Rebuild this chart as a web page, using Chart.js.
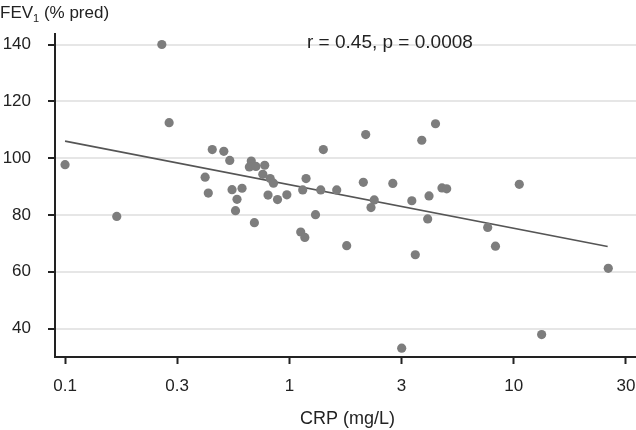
<!doctype html>
<html lang="en">
<head>
    <meta charset="UTF-8">
    <title>FEV1 vs CRP</title>
    <script src="https://cdn.jsdelivr.net/npm/chart.js"></script>
    <style>
        body { margin: 0; background: #fff; }
    </style>
</head>
<body>

<canvas id="myChart" width="636" height="430"></canvas>

<script>
    // CRP (mg/L) and FEV1 (% pred) for each subject
    var crp = [0.100, 0.270, 0.291, 0.170, 0.421, 0.435, 0.453, 0.510, 0.542, 0.555,
               0.615, 0.584, 0.575, 0.676, 0.663, 0.709, 0.776, 0.761, 0.821, 0.849,
               0.803, 0.885, 0.974, 0.698, 1.123, 1.171, 1.146, 1.186, 1.379, 1.625,
               1.307, 1.416, 2.188, 2.135, 2.889, 2.388, 2.310, 1.800, 4.478, 3.890,
               3.512, 4.190, 4.786, 5.023, 4.133, 3.639, 7.650, 8.286, 10.58, 13.31,
               26.37, 3.165];
    var fev = [97.7, 140.0, 112.5, 79.5, 93.3, 87.7, 103.0, 102.4, 99.2, 88.9,
               89.4, 85.5, 81.5, 99.0, 96.9, 97.1, 97.5, 94.3, 92.8, 91.2,
               87.0, 85.4, 87.1, 77.3, 74.0, 72.1, 88.8, 92.8, 88.8, 88.8,
               80.1, 103.0, 108.3, 91.5, 91.1, 85.3, 82.6, 69.2, 112.1, 106.3,
               85.0, 86.7, 89.5, 89.2, 78.6, 66.0, 75.6, 69.0, 90.8, 37.9,
               61.2, 33.1];

    // regression line ends
    var fitCrp = [0.1, 26.2];
    var fitFev = [106.0, 68.9];

    var xTickValues = [0.1, 0.316, 1, 3.16, 10, 31.6];
    var xTickLabels = ['0.1', '0.3', '1', '3', '10', '30'];
    var yTickValues = [40, 60, 80, 100, 120, 140];

    var textColor = '#222';
    var tickFont = { family: "'Liberation Sans', Arial, sans-serif", size: 17 };

    var points = crp.map(function (c, i) { return { x: c, y: fev[i] }; });
    var fitLine = fitCrp.map(function (c, i) { return { x: c, y: fitFev[i] }; });

    // axis titles and r/p note
    var labelsPlugin = {
        id: 'labels',
        afterDraw: function (chart) {
            var c = chart.ctx;
            c.save();
            c.fillStyle = textColor;
            c.textBaseline = 'alphabetic';
            c.textAlign = 'left';
            c.font = "17px 'Liberation Sans', Arial, sans-serif";
            c.fillText('FEV', 0, 18);
            var w = c.measureText('FEV').width;
            c.font = "11px 'Liberation Sans', Arial, sans-serif";
            c.fillText('1', w, 22);
            var w2 = c.measureText('1').width;
            c.font = "17px 'Liberation Sans', Arial, sans-serif";
            c.fillText(' (% pred)', w + w2, 18);

            c.font = "18px 'Liberation Sans', Arial, sans-serif";
            c.fillText('CRP (mg/L)', 300, 424);

            c.font = "19px 'Liberation Sans', Arial, sans-serif";
            c.fillText('r = 0.45, p = 0.0008', 307, 48);
            c.restore();
        }
    };

    var ctx = document.getElementById('myChart');

    var myChart = new Chart(ctx, {
        type: 'scatter',
        data: {
            datasets: [{
                data: points,
                backgroundColor: '#7d7d7d',
                borderWidth: 0,
                pointRadius: 4.6,
                pointHoverRadius: 4.6
            }, {
                data: fitLine,
                showLine: true,
                borderColor: '#555',
                borderWidth: 1.6,
                pointRadius: 0
            }]
        },
        options: {
            responsive: false,
            animation: false,
            devicePixelRatio: 1,
            layout: { autoPadding: false, padding: { top: 34, left: 0, right: 0, bottom: 0 } },
            plugins: {
                legend: { display: false },
                tooltip: { enabled: false }
            },
            scales: {
                x: {
                    type: 'logarithmic',
                    min: 0.0902,
                    max: 35.05,
                    afterBuildTicks: function (scale) {
                        scale.ticks = xTickValues.map(function (v) { return { value: v }; });
                    },
                    afterFit: function (scale) {
                        scale.height = 73;
                        scale.paddingLeft = 0;
                        scale.paddingRight = 0;
                    },
                    ticks: {
                        autoSkip: false,
                        maxRotation: 0,
                        padding: 12,
                        color: textColor,
                        font: tickFont,
                        callback: function (v, i) { return xTickLabels[i]; }
                    },
                    grid: {
                        display: true,
                        drawOnChartArea: false,
                        drawTicks: true,
                        tickLength: 7,
                        tickColor: textColor,
                        tickWidth: 2
                    },
                    border: { color: textColor, width: 2 }
                },
                y: {
                    min: 30,
                    max: 143.7,
                    afterBuildTicks: function (scale) {
                        scale.ticks = yTickValues.map(function (v) { return { value: v }; });
                    },
                    afterFit: function (scale) {
                        scale.width = 55;
                        scale.paddingTop = 0;
                        scale.paddingBottom = 0;
                    },
                    ticks: {
                        padding: 17,
                        color: textColor,
                        font: tickFont
                    },
                    grid: {
                        color: '#e6e6e6',
                        lineWidth: 2,
                        tickLength: 7,
                        tickColor: textColor,
                        tickWidth: 2
                    },
                    border: { color: textColor, width: 2 }
                }
            }
        },
        plugins: [labelsPlugin]
    });
</script>
</body>
</html>
